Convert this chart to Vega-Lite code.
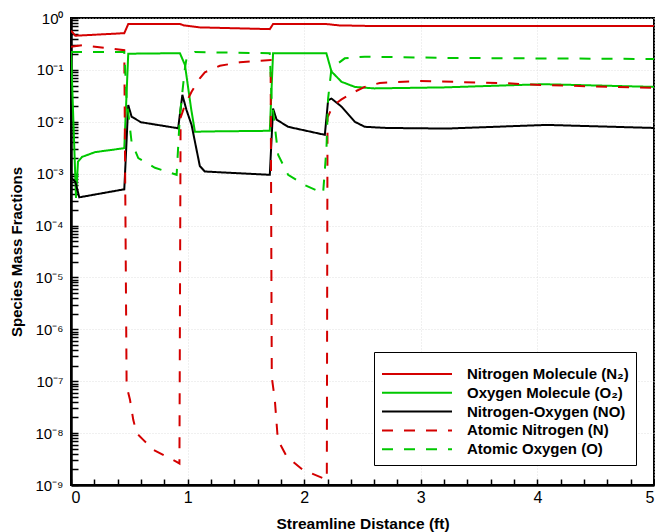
{
  "$schema": "https://vega.github.io/schema/vega-lite/v6.json",
  "width": 583,
  "height": 467,
  "autosize": {"type": "none"},
  "padding": {"left": 71, "top": 18, "right": 1, "bottom": 47},
  "config": {
    "font": "Liberation Sans",
    "view": {"stroke": "black", "strokeWidth": 2},
    "axis": {"labelFont": "Liberation Sans", "titleFont": "Liberation Sans", "labelColor": "black", "titleColor": "black"}
  },
  "data": {"values": [
    {"x": 0, "y": 0.57, "s": "Nitrogen Molecule (N₂)"},
    {"x": 0.037, "y": 0.455, "s": "Nitrogen Molecule (N₂)"},
    {"x": 0.457, "y": 0.51, "s": "Nitrogen Molecule (N₂)"},
    {"x": 0.491, "y": 0.765, "s": "Nitrogen Molecule (N₂)"},
    {"x": 0.934, "y": 0.765, "s": "Nitrogen Molecule (N₂)"},
    {"x": 0.97, "y": 0.72, "s": "Nitrogen Molecule (N₂)"},
    {"x": 1.1, "y": 0.66, "s": "Nitrogen Molecule (N₂)"},
    {"x": 1.705, "y": 0.61, "s": "Nitrogen Molecule (N₂)"},
    {"x": 1.733, "y": 0.765, "s": "Nitrogen Molecule (N₂)"},
    {"x": 2.19, "y": 0.765, "s": "Nitrogen Molecule (N₂)"},
    {"x": 2.3, "y": 0.72, "s": "Nitrogen Molecule (N₂)"},
    {"x": 2.6, "y": 0.70, "s": "Nitrogen Molecule (N₂)"},
    {"x": 5, "y": 0.70, "s": "Nitrogen Molecule (N₂)"},

    {"x": 0, "y": 0.23, "s": "Oxygen Molecule (O₂)"},
    {"x": 0.043, "y": 0.00034, "s": "Oxygen Molecule (O₂)"},
    {"x": 0.06, "y": 0.0017, "s": "Oxygen Molecule (O₂)"},
    {"x": 0.094, "y": 0.0021, "s": "Oxygen Molecule (O₂)"},
    {"x": 0.206, "y": 0.0026, "s": "Oxygen Molecule (O₂)"},
    {"x": 0.457, "y": 0.0031, "s": "Oxygen Molecule (O₂)"},
    {"x": 0.491, "y": 0.205, "s": "Oxygen Molecule (O₂)"},
    {"x": 0.934, "y": 0.21, "s": "Oxygen Molecule (O₂)"},
    {"x": 0.977, "y": 0.125, "s": "Oxygen Molecule (O₂)"},
    {"x": 1.03, "y": 0.018, "s": "Oxygen Molecule (O₂)"},
    {"x": 1.063, "y": 0.0064, "s": "Oxygen Molecule (O₂)"},
    {"x": 1.148, "y": 0.0065, "s": "Oxygen Molecule (O₂)"},
    {"x": 1.705, "y": 0.0067, "s": "Oxygen Molecule (O₂)"},
    {"x": 1.733, "y": 0.21, "s": "Oxygen Molecule (O₂)"},
    {"x": 2.19, "y": 0.21, "s": "Oxygen Molecule (O₂)"},
    {"x": 2.234, "y": 0.093, "s": "Oxygen Molecule (O₂)"},
    {"x": 2.32, "y": 0.059, "s": "Oxygen Molecule (O₂)"},
    {"x": 2.434, "y": 0.047, "s": "Oxygen Molecule (O₂)"},
    {"x": 2.6, "y": 0.044, "s": "Oxygen Molecule (O₂)"},
    {"x": 3.2, "y": 0.046, "s": "Oxygen Molecule (O₂)"},
    {"x": 4.05, "y": 0.053, "s": "Oxygen Molecule (O₂)"},
    {"x": 5, "y": 0.047, "s": "Oxygen Molecule (O₂)"},

    {"x": 0, "y": 0.00083, "s": "Nitrogen-Oxygen (NO)"},
    {"x": 0.037, "y": 0.0007, "s": "Nitrogen-Oxygen (NO)"},
    {"x": 0.071, "y": 0.00035, "s": "Nitrogen-Oxygen (NO)"},
    {"x": 0.457, "y": 0.0005, "s": "Nitrogen-Oxygen (NO)"},
    {"x": 0.491, "y": 0.021, "s": "Nitrogen-Oxygen (NO)"},
    {"x": 0.52, "y": 0.0125, "s": "Nitrogen-Oxygen (NO)"},
    {"x": 0.6, "y": 0.0098, "s": "Nitrogen-Oxygen (NO)"},
    {"x": 0.919, "y": 0.0075, "s": "Nitrogen-Oxygen (NO)"},
    {"x": 0.955, "y": 0.033, "s": "Nitrogen-Oxygen (NO)"},
    {"x": 0.99, "y": 0.017, "s": "Nitrogen-Oxygen (NO)"},
    {"x": 1.034, "y": 0.0087, "s": "Nitrogen-Oxygen (NO)"},
    {"x": 1.105, "y": 0.0014, "s": "Nitrogen-Oxygen (NO)"},
    {"x": 1.148, "y": 0.0011, "s": "Nitrogen-Oxygen (NO)"},
    {"x": 1.705, "y": 0.00095, "s": "Nitrogen-Oxygen (NO)"},
    {"x": 1.733, "y": 0.018, "s": "Nitrogen-Oxygen (NO)"},
    {"x": 1.763, "y": 0.011, "s": "Nitrogen-Oxygen (NO)"},
    {"x": 1.862, "y": 0.008, "s": "Nitrogen-Oxygen (NO)"},
    {"x": 2.177, "y": 0.0056, "s": "Nitrogen-Oxygen (NO)"},
    {"x": 2.205, "y": 0.026, "s": "Nitrogen-Oxygen (NO)"},
    {"x": 2.234, "y": 0.028, "s": "Nitrogen-Oxygen (NO)"},
    {"x": 2.32, "y": 0.0196, "s": "Nitrogen-Oxygen (NO)"},
    {"x": 2.434, "y": 0.01, "s": "Nitrogen-Oxygen (NO)"},
    {"x": 2.519, "y": 0.008, "s": "Nitrogen-Oxygen (NO)"},
    {"x": 2.708, "y": 0.0076, "s": "Nitrogen-Oxygen (NO)"},
    {"x": 3.222, "y": 0.0074, "s": "Nitrogen-Oxygen (NO)"},
    {"x": 4.079, "y": 0.0087, "s": "Nitrogen-Oxygen (NO)"},
    {"x": 5, "y": 0.0076, "s": "Nitrogen-Oxygen (NO)"},

    {"x": 0, "y": 0.28, "s": "Atomic Nitrogen (N)"},
    {"x": 0.094, "y": 0.30, "s": "Atomic Nitrogen (N)"},
    {"x": 0.457, "y": 0.24, "s": "Atomic Nitrogen (N)"},
    {"x": 0.477, "y": 8e-8, "s": "Atomic Nitrogen (N)"},
    {"x": 0.506, "y": 4.4e-8, "s": "Atomic Nitrogen (N)"},
    {"x": 0.534, "y": 1.8e-8, "s": "Atomic Nitrogen (N)"},
    {"x": 0.563, "y": 1e-8, "s": "Atomic Nitrogen (N)"},
    {"x": 0.62, "y": 7.4e-9, "s": "Atomic Nitrogen (N)"},
    {"x": 0.705, "y": 4.8e-9, "s": "Atomic Nitrogen (N)"},
    {"x": 0.82, "y": 3.5e-9, "s": "Atomic Nitrogen (N)"},
    {"x": 0.906, "y": 2.8e-9, "s": "Atomic Nitrogen (N)"},
    {"x": 0.93, "y": 2.6e-9, "s": "Atomic Nitrogen (N)"},
    {"x": 0.94, "y": 0.012, "s": "Atomic Nitrogen (N)"},
    {"x": 0.977, "y": 0.021, "s": "Atomic Nitrogen (N)"},
    {"x": 1.034, "y": 0.038, "s": "Atomic Nitrogen (N)"},
    {"x": 1.105, "y": 0.069, "s": "Atomic Nitrogen (N)"},
    {"x": 1.148, "y": 0.09, "s": "Atomic Nitrogen (N)"},
    {"x": 1.277, "y": 0.12, "s": "Atomic Nitrogen (N)"},
    {"x": 1.448, "y": 0.14, "s": "Atomic Nitrogen (N)"},
    {"x": 1.62, "y": 0.15, "s": "Atomic Nitrogen (N)"},
    {"x": 1.712, "y": 0.155, "s": "Atomic Nitrogen (N)"},
    {"x": 1.722, "y": 1.2e-7, "s": "Atomic Nitrogen (N)"},
    {"x": 1.748, "y": 4.4e-8, "s": "Atomic Nitrogen (N)"},
    {"x": 1.774, "y": 7.4e-9, "s": "Atomic Nitrogen (N)"},
    {"x": 1.851, "y": 3.5e-9, "s": "Atomic Nitrogen (N)"},
    {"x": 1.988, "y": 1.96e-9, "s": "Atomic Nitrogen (N)"},
    {"x": 2.194, "y": 1.26e-9, "s": "Atomic Nitrogen (N)"},
    {"x": 2.2, "y": 0.012, "s": "Atomic Nitrogen (N)"},
    {"x": 2.234, "y": 0.018, "s": "Atomic Nitrogen (N)"},
    {"x": 2.277, "y": 0.023, "s": "Atomic Nitrogen (N)"},
    {"x": 2.32, "y": 0.027, "s": "Atomic Nitrogen (N)"},
    {"x": 2.434, "y": 0.038, "s": "Atomic Nitrogen (N)"},
    {"x": 2.519, "y": 0.047, "s": "Atomic Nitrogen (N)"},
    {"x": 2.648, "y": 0.056, "s": "Atomic Nitrogen (N)"},
    {"x": 2.965, "y": 0.061, "s": "Atomic Nitrogen (N)"},
    {"x": 3.676, "y": 0.056, "s": "Atomic Nitrogen (N)"},
    {"x": 4.045, "y": 0.051, "s": "Atomic Nitrogen (N)"},
    {"x": 5, "y": 0.045, "s": "Atomic Nitrogen (N)"},

    {"x": 0, "y": 0.22, "s": "Atomic Oxygen (O)"},
    {"x": 0.457, "y": 0.22, "s": "Atomic Oxygen (O)"},
    {"x": 0.477, "y": 0.028, "s": "Atomic Oxygen (O)"},
    {"x": 0.52, "y": 0.004, "s": "Atomic Oxygen (O)"},
    {"x": 0.577, "y": 0.002, "s": "Atomic Oxygen (O)"},
    {"x": 0.72, "y": 0.0013, "s": "Atomic Oxygen (O)"},
    {"x": 0.906, "y": 0.00095, "s": "Atomic Oxygen (O)"},
    {"x": 0.934, "y": 0.0135, "s": "Atomic Oxygen (O)"},
    {"x": 0.977, "y": 0.107, "s": "Atomic Oxygen (O)"},
    {"x": 0.991, "y": 0.167, "s": "Atomic Oxygen (O)"},
    {"x": 1.063, "y": 0.22, "s": "Atomic Oxygen (O)"},
    {"x": 1.705, "y": 0.21, "s": "Atomic Oxygen (O)"},
    {"x": 1.72, "y": 0.028, "s": "Atomic Oxygen (O)"},
    {"x": 1.777, "y": 0.0023, "s": "Atomic Oxygen (O)"},
    {"x": 1.862, "y": 0.00095, "s": "Atomic Oxygen (O)"},
    {"x": 2.005, "y": 0.0006, "s": "Atomic Oxygen (O)"},
    {"x": 2.162, "y": 0.00042, "s": "Atomic Oxygen (O)"},
    {"x": 2.191, "y": 0.0031, "s": "Atomic Oxygen (O)"},
    {"x": 2.205, "y": 0.028, "s": "Atomic Oxygen (O)"},
    {"x": 2.234, "y": 0.107, "s": "Atomic Oxygen (O)"},
    {"x": 2.348, "y": 0.167, "s": "Atomic Oxygen (O)"},
    {"x": 2.519, "y": 0.18, "s": "Atomic Oxygen (O)"},
    {"x": 3.248, "y": 0.17, "s": "Atomic Oxygen (O)"},
    {"x": 5, "y": 0.162, "s": "Atomic Oxygen (O)"}
  ]},
  "mark": {"type": "line", "strokeWidth": 2, "clip": true},
  "encoding": {
    "x": {"field": "x", "type": "quantitative",
      "scale": {"domain": [0, 5], "nice": false, "zero": false},
      "axis": {"orient": "bottom", "title": "Streamline Distance (ft)",
        "values": [0, 0.2, 0.4, 0.6, 0.8, 1, 1.2, 1.4, 1.6, 1.8, 2, 2.2, 2.4, 2.6, 2.8, 3, 3.2, 3.4, 3.6, 3.8, 4, 4.2, 4.4, 4.6, 4.8, 5],
        "labelExpr": "abs(datum.value - round(datum.value)) < 0.001 ? format(datum.value, 'd') : ''",
        "ticks": true, "tickSize": -6, "tickWidth": 1.5, "tickColor": "black",
        "domainColor": "black", "domainWidth": 2.5, "labelFontSize": 16, "labelPadding": 10, "labelOverlap": false,
        "titleFontSize": 15.5, "titleFontWeight": "bold", "titlePadding": 11,
        "grid": true, "gridColor": "#d8d8d8", "gridDash": [1, 2], "gridWidth": 0.8,
        "gridOpacity": {"condition": {"test": "abs(datum.value - round(datum.value)) < 0.001", "value": 1}, "value": 0}}},
    "y": {"field": "y", "type": "quantitative",
      "scale": {"type": "log", "domain": [1e-9, 1], "nice": false, "zero": false},
      "axis": {"orient": "left", "title": "Species Mass Fractions",
        "values": [1e-9, 2e-9, 3e-9, 4e-9, 5e-9, 6e-9, 7e-9, 8e-9, 9e-9,
          1e-8, 2e-8, 3e-8, 4e-8, 5e-8, 6e-8, 7e-8, 8e-8, 9e-8,
          1e-7, 2e-7, 3e-7, 4e-7, 5e-7, 6e-7, 7e-7, 8e-7, 9e-7,
          1e-6, 2e-6, 3e-6, 4e-6, 5e-6, 6e-6, 7e-6, 8e-6, 9e-6,
          1e-5, 2e-5, 3e-5, 4e-5, 5e-5, 6e-5, 7e-5, 8e-5, 9e-5,
          1e-4, 2e-4, 3e-4, 4e-4, 5e-4, 6e-4, 7e-4, 8e-4, 9e-4,
          1e-3, 2e-3, 3e-3, 4e-3, 5e-3, 6e-3, 7e-3, 8e-3, 9e-3,
          1e-2, 2e-2, 3e-2, 4e-2, 5e-2, 6e-2, 7e-2, 8e-2, 9e-2,
          1e-1, 2e-1, 3e-1, 4e-1, 5e-1, 6e-1, 7e-1, 8e-1, 9e-1, 1],
        "labelExpr": "abs(log(datum.value)/LN10 - round(log(datum.value)/LN10)) < 0.001 ? ['10⁰','10⁻¹','10⁻²','10⁻³','10⁻⁴','10⁻⁵','10⁻⁶','10⁻⁷','10⁻⁸','10⁻⁹'][round(-log(datum.value)/LN10)] : ''",
        "ticks": true, "tickSize": -7, "tickWidth": 1.5, "tickColor": "black",
        "domainColor": "black", "domainWidth": 2.5, "labelFontSize": 15, "labelPadding": 15, "labelOverlap": false,
        "titleFontSize": 15, "titleFontWeight": "bold", "titlePadding": 10,
        "grid": true, "gridColor": "#d8d8d8", "gridDash": [1, 2], "gridWidth": 0.8,
        "gridOpacity": {"condition": {"test": "abs(log(datum.value)/LN10 - round(log(datum.value)/LN10)) < 0.001", "value": 1}, "value": 0}}},
    "color": {"field": "s", "type": "nominal",
      "scale": {"domain": ["Nitrogen Molecule (N₂)", "Oxygen Molecule (O₂)", "Nitrogen-Oxygen (NO)", "Atomic Nitrogen (N)", "Atomic Oxygen (O)"],
        "range": ["#d40000", "#00c800", "#000000", "#d40000", "#00c800"]},
      "legend": {"orient": "none", "legendX": 303, "legendY": 334, "title": " ", "titleFontSize": 1, "titlePadding": 6,
        "symbolType": "stroke", "symbolSize": 4900, "symbolStrokeWidth": 2, "clipHeight": 16, "rowPadding": 2.8,
        "labelFont": "Liberation Sans", "labelFontSize": 15, "labelFontWeight": "bold", "labelColor": "black", "labelOffset": 14, "labelLimit": 300,
        "padding": 7, "strokeColor": "black", "fillColor": "white"}},
    "strokeDash": {"field": "s", "type": "nominal",
      "scale": {"domain": ["Nitrogen Molecule (N₂)", "Oxygen Molecule (O₂)", "Nitrogen-Oxygen (NO)", "Atomic Nitrogen (N)", "Atomic Oxygen (O)"],
        "range": [[1, 0], [1, 0], [1, 0], [11, 11], [11, 11]]},
      "legend": {"orient": "none", "legendX": 303, "legendY": 334, "title": " ", "titleFontSize": 1, "titlePadding": 6,
        "symbolType": "stroke", "symbolSize": 4900, "symbolStrokeWidth": 2, "clipHeight": 16, "rowPadding": 2.8,
        "labelFont": "Liberation Sans", "labelFontSize": 15, "labelFontWeight": "bold", "labelColor": "black", "labelOffset": 14, "labelLimit": 300,
        "padding": 7, "strokeColor": "black", "fillColor": "white"}}
  }
}
